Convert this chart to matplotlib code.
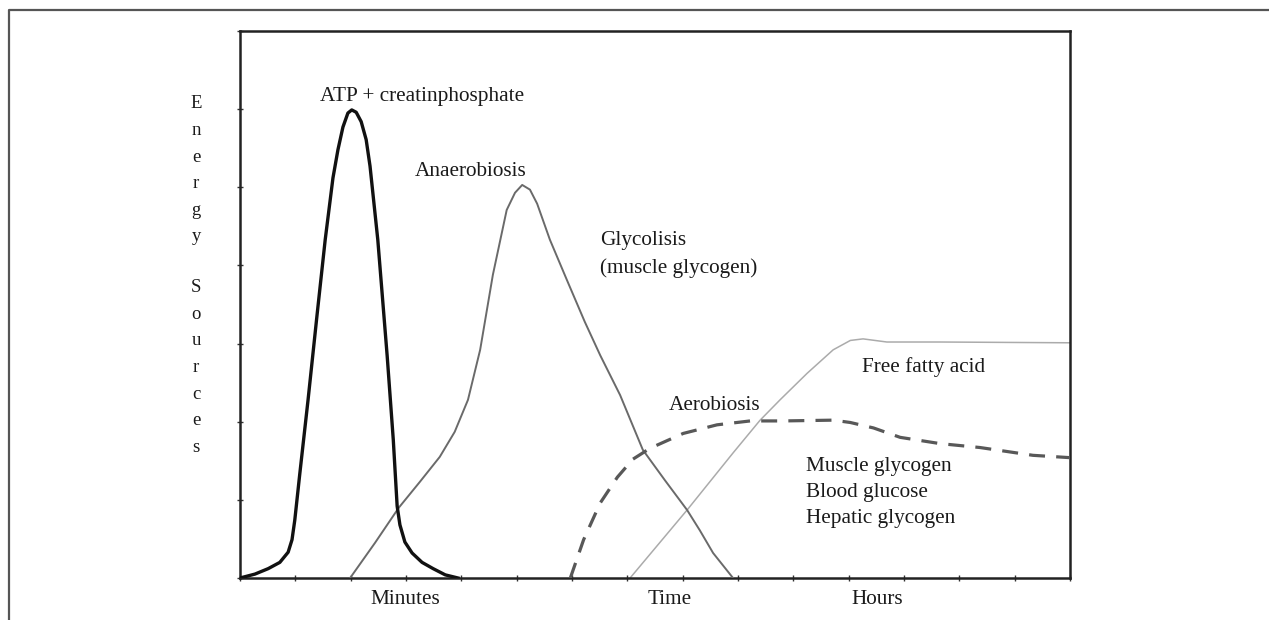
import matplotlib
matplotlib.use("Agg")
import matplotlib.pyplot as plt
from matplotlib.lines import Line2D

# ---- data (x in "time" units 0-15, y in "energy" units 0-7) ----
atp_x = [0, 0.27, 0.51, 0.72, 0.87, 0.94, 0.99, 1.08, 1.23, 1.39, 1.54, 1.68, 1.77, 1.86, 1.95,
         2.02, 2.10, 2.19, 2.28, 2.35, 2.49, 2.66, 2.77, 2.84, 2.89, 2.98, 3.11, 3.29, 3.49,
         3.71, 3.94]
atp_y = [0, 0.05, 0.12, 0.20, 0.33, 0.49, 0.74, 1.33, 2.28, 3.35, 4.33, 5.12, 5.48, 5.77, 5.95,
         5.99, 5.96, 5.84, 5.61, 5.27, 4.33, 2.84, 1.77, 0.92, 0.68, 0.46, 0.32, 0.20, 0.12,
         0.04, 0]

anaer_x = [1.99, 2.44, 2.87, 3.25, 3.61, 3.88, 4.12, 4.34, 4.57, 4.82, 4.97, 5.10, 5.24, 5.37,
           5.60, 5.91, 6.23, 6.51, 6.87, 7.28, 7.68, 8.08, 8.31, 8.55, 8.91]
anaer_y = [0, 0.45, 0.90, 1.23, 1.55, 1.87, 2.28, 2.92, 3.88, 4.71, 4.93, 5.03, 4.97, 4.79,
           4.33, 3.81, 3.28, 2.85, 2.34, 1.64, 1.25, 0.87, 0.61, 0.32, 0]

aer_x = [5.97, 6.21, 6.51, 6.82, 7.10, 7.41, 8.01, 8.62, 9.22, 9.81, 10.72, 11.03, 11.45, 11.93,
         12.65, 13.37, 14.33, 15.0]
aer_y = [0, 0.49, 0.96, 1.29, 1.52, 1.66, 1.85, 1.96, 2.01, 2.01, 2.02, 1.99, 1.92, 1.80,
         1.72, 1.67, 1.57, 1.54]

ffa_x = [7.05, 8.08, 8.91, 9.40, 9.76, 10.25, 10.72, 11.03, 11.26, 11.69, 12.65, 15.0]
ffa_y = [0, 0.87, 1.60, 2.02, 2.28, 2.62, 2.92, 3.04, 3.06, 3.02, 3.02, 3.01]

x_labels = ["Minutes", "Time", "Hours"]
y_label = "Energy Sources"

W, H = 1269, 620
fig = plt.figure(figsize=(W / 100, H / 100), dpi=100)

def fx(px):
    return px / W

def fy(py):
    return 1 - py / H

# outer frame (top and left edges)
fig.add_artist(Line2D([fx(9), fx(9), 1.0], [0.0, fy(10), fy(10)],
                      transform=fig.transFigure, color="#555555", lw=1.6))

ax = fig.add_axes([fx(240), fy(578), fx(1070) - fx(240), fy(31) - fy(578)])
ax.set_xlim(0, 15)
ax.set_ylim(0, 7)
for s in ax.spines.values():
    s.set_color("#222222")
    s.set_linewidth(1.8)
ax.set_xticks(range(0, 16))
ax.set_yticks(range(0, 8))
ax.tick_params(direction="inout", length=4, width=1, color="#333333",
               labelbottom=False, labelleft=False)

ax.plot(ffa_x, ffa_y, color="#ababab", lw=1.1, solid_capstyle="round", zorder=2)
ax.plot(anaer_x, anaer_y, color="#6a6a6a", lw=1.4, solid_joinstyle="round", zorder=3)
ax.plot(aer_x, aer_y, color="#585858", lw=2.3, dashes=(5, 3.5), zorder=4)
ax.plot(atp_x, atp_y, color="#111111", lw=2.4, solid_joinstyle="round", zorder=5)

serif = ["Liberation Serif", "DejaVu Serif"]
fs = 15.3
c = "#1a1a1a"

def txt(px, py, s, ha="left", size=fs):
    fig.text(fx(px), fy(py), s, ha=ha, va="center", fontsize=size, family=serif, color=c)

txt(422, 97, "ATP + creatinphosphate", ha="center")
txt(471, 172, "Anaerobiosis", ha="center")
txt(600, 241, "Glycolisis")
txt(600, 268, "(muscle glycogen)")
txt(862, 367, "Free fatty acid")
txt(669, 405, "Aerobiosis")
txt(806, 466, "Muscle glycogen")
txt(806, 492, "Blood glucose")
txt(806, 519, "Hepatic glycogen")

for lab, px in zip(x_labels, [405, 670, 877]):
    txt(px, 600, lab, ha="center")

# vertical stacked y label
py = 104
for ch in y_label:
    if ch == " ":
        py += 24
        continue
    txt(196, py, ch, ha="center", size=13.5)
    py += 26.6

fig.savefig("out.png", dpi=100)
